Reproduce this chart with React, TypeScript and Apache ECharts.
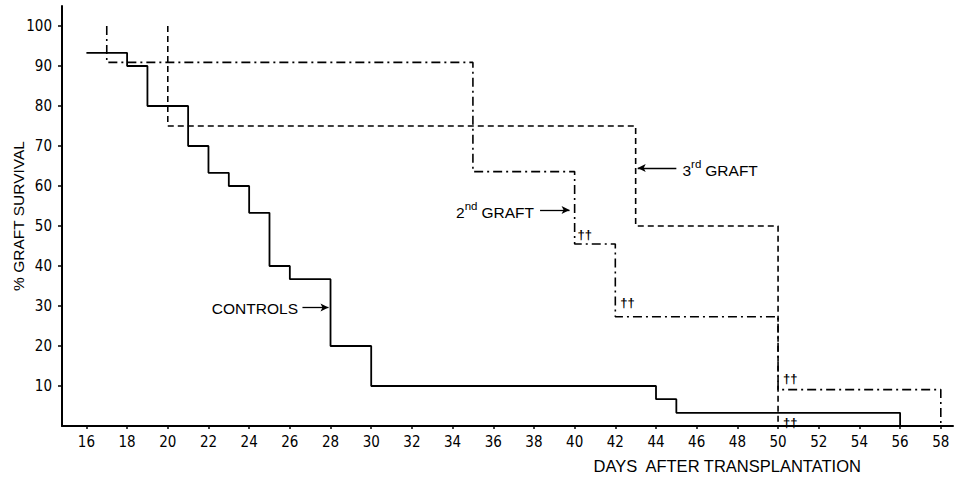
import React, { useEffect, useRef } from "react";
import * as echarts from "echarts";

const xTicks = [16, 18, 20, 22, 24, 26, 28, 30, 32, 34, 36, 38, 40, 42, 44, 46, 48, 50, 52, 54, 56, 58];
const yTicks = [10, 20, 30, 40, 50, 60, 70, 80, 90, 100];

const controlsDays = [16, 18, 19, 21, 22, 23, 24, 25, 26, 28, 30, 44, 45, 56, 56];
const controlsSurvival = [93.3, 90, 80, 70, 63.3, 60, 53.3, 40, 36.7, 20, 10, 6.7, 3.3, 3.3, 0];

const graft2Days = [17, 17, 35, 40, 42, 50, 58, 58];
const graft2Survival = [100, 90.9, 63.6, 45.5, 27.3, 9.1, 9.1, 0];

const graft3Days = [20, 20, 43, 50, 50];
const graft3Survival = [100, 75, 50, 50, 0];

// annotation anchors in data units
const daggerMarks = [
  [40.5, 48],
  [42.6, 30.8],
  [50.6, 11.8],
  [50.6, 0.8],
];

const NARROW = "'Liberation Sans Narrow', 'DejaVu Sans Condensed', 'Roboto Condensed', 'Liberation Sans', sans-serif";
const FONT = "'Liberation Sans', Arial, sans-serif";

function zip(xs: number[], ys: number[]) {
  return xs.map((x, i) => [x, ys[i]]);
}

export default function App() {
  const ref = useRef<HTMLDivElement>(null);
  useEffect(() => {
    if (!ref.current) return;
    const chart = echarts.init(ref.current, undefined, { renderer: "svg" });
    const arrowLine = (from: number[], to: number[]) => [
      { coord: from, symbol: "none" },
      { coord: to, symbol: "arrow" },
    ];
    chart.setOption({
      animation: false,
      backgroundColor: "#ffffff",
      grid: { left: 62, right: 5, top: 6, bottom: 55, outerBoundsMode: "none", containLabel: false },
      xAxis: {
        type: "value",
        min: 14.8,
        max: 58.6,
        splitLine: { show: false },
        axisLine: { lineStyle: { color: "#000", width: 2 } },
        axisTick: { show: true, customValues: xTicks, length: 3, lineStyle: { color: "#000", width: 1.5 } },
        axisLabel: { customValues: xTicks, color: "#000", fontSize: 15, fontFamily: NARROW, margin: 8 },
      },
      yAxis: {
        type: "value",
        min: 0,
        max: 105,
        name: "% GRAFT SURVIVAL",
        nameLocation: "middle",
        nameGap: 36,
        nameMoveOverlap: false,
        nameTextStyle: { color: "#000", fontSize: 15.5, fontFamily: FONT },
        splitLine: { show: false },
        axisLine: { show: true, lineStyle: { color: "#000", width: 2 } },
        axisTick: { show: true, customValues: yTicks, length: 4, lineStyle: { color: "#000", width: 1.5 } },
        axisLabel: { customValues: yTicks, color: "#000", fontSize: 15, fontFamily: NARROW, margin: 10 },
      },
      series: [
        {
          name: "Controls",
          type: "line",
          step: "end",
          showSymbol: false,
          symbol: "none",
          data: zip(controlsDays, controlsSurvival),
          lineStyle: { color: "#000", width: 1.8 },
          markLine: {
            silent: true,
            symbolSize: [6, 8],
            label: { show: false },
            lineStyle: { color: "#000", width: 1.3, type: "solid" },
            data: [
              arrowLine([26.62, 29.6], [27.9, 29.6]),
              arrowLine([38.3, 54], [39.75, 54]),
              arrowLine([45.0, 64.5], [43.1, 64.5]),
            ],
          },
        },
        {
          name: "2nd graft",
          type: "line",
          step: "end",
          showSymbol: false,
          symbol: "none",
          data: zip(graft2Days, graft2Survival),
          lineStyle: { color: "#000", width: 1.6, type: [9, 4, 2, 4] },
        },
        {
          name: "3rd graft",
          type: "line",
          step: "end",
          showSymbol: false,
          symbol: "none",
          data: zip(graft3Days, graft3Survival),
          lineStyle: { color: "#000", width: 1.6, type: [6, 4] },
        },
      ],
    });

    const px = (p: number[]) => chart.convertToPixel({ gridIndex: 0 }, p) as number[];
    const textStyle = { fill: "#000", fontSize: 15.5, fontFamily: FONT };
    const rich = {
      b: { fontSize: 15.5, fontFamily: FONT, fill: "#000", verticalAlign: "bottom", lineHeight: 20 },
      s: { fontSize: 11.5, fontFamily: FONT, fill: "#000", verticalAlign: "top", lineHeight: 20, padding: [0, 4, 8, 0] },
    };
    const c = px([26.4, 29.3]);
    const g2 = px([38.0, 54]);
    const g3 = px([45.3, 64.5]);
    const xt = px([47.5, -10]);
    const graphics: any[] = [
      { type: "text", x: c[0], y: c[1], style: { ...textStyle, text: "CONTROLS", align: "right", verticalAlign: "middle" } },
      {
        type: "text",
        x: g2[0],
        y: g2[1],
        style: { ...textStyle, text: "{b|2}{s|nd}{b|GRAFT}", align: "right", verticalAlign: "middle", rich },
      },
      {
        type: "text",
        x: g3[0],
        y: g3[1],
        style: { ...textStyle, text: "{b|3}{s|rd}{b|GRAFT}", align: "left", verticalAlign: "middle", rich },
      },
      {
        type: "text",
        x: xt[0],
        y: xt[1],
        style: { ...textStyle, fontSize: 16.5, text: "DAYS  AFTER TRANSPLANTATION", align: "center", verticalAlign: "middle" },
      },
      ...daggerMarks.map((d) => {
        const p = px(d);
        return {
          type: "text",
          x: p[0],
          y: p[1],
          style: { ...textStyle, fontSize: 13, fontWeight: "bold", text: "\u2020\u2020", align: "center", verticalAlign: "middle" },
        };
      }),
    ];
    chart.setOption({ graphic: graphics });
    return () => chart.dispose();
  }, []);
  return <div ref={ref} style={{ position: "fixed", left: 0, top: 0, width: 958, height: 481 }} />;
}
